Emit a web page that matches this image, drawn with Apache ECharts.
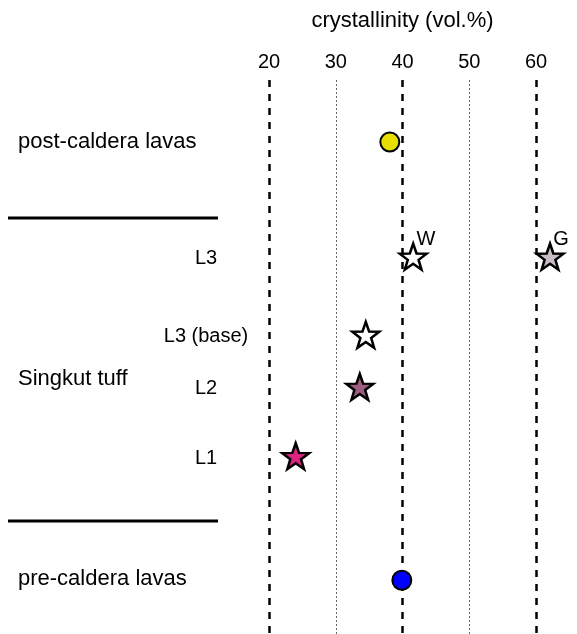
<!DOCTYPE html>
<html><head><meta charset="utf-8">
<script src="https://cdn.jsdelivr.net/npm/echarts@6/dist/echarts.min.js"></script>
<style>html,body{margin:0;padding:0;background:#fff}#c{width:577px;height:634px}</style>
</head><body><div id="c"></div>
<script>
// ---- data ----
const xTicks = [20, 30, 40, 50, 60];
const majorLines = [20, 40, 60];
const minorLines = [30, 50];
// row positions (layout rank on a 0-100 vertical scale)
const groupNames = ['post-caldera lavas', 'Singkut tuff', 'pre-caldera lavas'];
const groupRows = [11.2, 54.0, 90.0];
const subNames = ['L3', 'L3 (base)', 'L2', 'L1'];
const subRows = [31.9, 46.0, 55.4, 67.9];
const separatorRows = [24.9, 79.6];
// points
const circleNames = ['post-caldera lavas', 'pre-caldera lavas'];
const circleValues = [38.1, 39.9];
const circleRows = [11.2, 90.3];
const circleColors = ['#e6df00', '#0000ff'];
const starNames = ['L3 W', 'L3 G', 'L3 (base)', 'L2', 'L1'];
const starValues = [41.6, 62.1, 34.5, 33.6, 24.0];
const starRows = [31.9, 31.9, 46.0, 55.4, 67.9];
const starColors = ['#ffffff', '#c9bdc5', '#ffffff', '#9c5d80', '#d9257f'];
const starTags = ['W', 'G', '', '', ''];

const STAR = 'path://M50 0 L61.76 33.82 L97.55 34.55 L69.02 56.18 L79.39 90.45 L50 70 L20.61 90.45 L30.98 56.18 L2.45 34.55 L38.24 33.82 Z';
const FONT = '"Liberation Sans", Arial, sans-serif';

const chart = echarts.init(document.getElementById('c'), null, {renderer: 'canvas'});
const option = {
  animation: false,
  grid: {left: 269, right: 41, top: 80, bottom: 0},
  xAxis: {
    type: 'value', position: 'top', min: 20, max: 60, interval: 10,
    name: 'crystallinity (vol.%)', nameLocation: 'middle', nameGap: 48,
    nameTextStyle: {fontSize: 22, color: '#000', fontFamily: FONT},
    axisLine: {show: false}, axisTick: {show: false}, splitLine: {show: false},
    axisLabel: {fontSize: 20, color: '#000', fontFamily: FONT, margin: 8,
      formatter: v => xTicks.includes(v) ? String(v) : ''}
  },
  yAxis: {type: 'value', min: 0, max: 100, inverse: true, show: false},
  series: [
    {
      type: 'scatter', name: 'lines', data: [], silent: true, z: 1,
      markLine: {
        symbol: 'none', silent: true, label: {show: false}, z: 1,
        data: majorLines.map(v => ({xAxis: v, lineStyle: {color: '#000', width: 2.5, type: [7, 7]}}))
          .concat(minorLines.map(v => ({xAxis: v, lineStyle: {color: '#666', width: 1, type: [2, 2]}})))
      }
    },
    {
      type: 'scatter', name: 'circles', symbol: 'circle', symbolSize: 19, clip: false,
      data: circleValues.map((v, i) => ({name: circleNames[i], value: [v, circleRows[i]],
        itemStyle: {color: circleColors[i], borderColor: '#000', borderWidth: 2, opacity: 1}})),
      z: 5
    },
    {
      type: 'scatter', name: 'stars', symbol: STAR, symbolSize: [27, 26], clip: false,
      data: starValues.map((v, i) => ({name: starNames[i], value: [v, starRows[i]],
        itemStyle: {color: starColors[i], borderColor: '#000', borderWidth: 2.5, opacity: 1},
        label: {show: !!starTags[i], formatter: starTags[i], position: [18, -13],
          fontSize: 20, color: '#000', fontFamily: FONT}})),
      z: 5
    }
  ]
};
chart.setOption(option);

const yPix = r => chart.convertToPixel({gridIndex: 0}, [20, r])[1];
const graphics = [];
groupNames.forEach((n, i) => graphics.push({type: 'text', x: 18, y: yPix(groupRows[i]),
  style: {text: n, fontSize: 22, fill: '#000', fontFamily: FONT, verticalAlign: 'middle'}}));
subNames.forEach((n, i) => graphics.push({type: 'text', x: 206, y: yPix(subRows[i]) + 2,
  style: {text: n, fontSize: 20, fill: '#000', fontFamily: FONT, align: 'center', verticalAlign: 'middle'}}));
separatorRows.forEach(r => graphics.push({type: 'line', shape: {x1: 8, y1: yPix(r), x2: 218, y2: yPix(r)},
  style: {stroke: '#000', lineWidth: 3}}));
chart.setOption({graphic: graphics});
</script></body></html>
